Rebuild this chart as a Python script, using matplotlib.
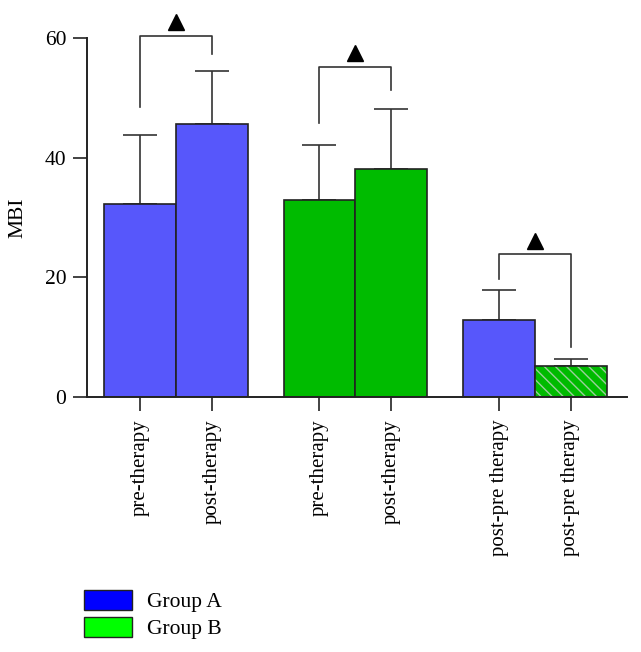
import numpy as np
import matplotlib.pyplot as plt
from matplotlib.patches import Patch

plt.rcParams['font.family'] = ['Liberation Serif', 'DejaVu Serif']

# Data
labels = ['pre-therapy', 'post-therapy', 'pre-therapy', 'post-therapy',
          'post-pre therapy', 'post-pre therapy']
means = [32.3, 45.6, 32.9, 38.1, 12.9, 5.1]
errs = [11.5, 8.9, 9.2, 10.1, 5.0, 1.3]
groups = ['A', 'A', 'B', 'B', 'A', 'B']
xpos = [0, 1, 2.5, 3.5, 5, 6]

# brackets: (left bar, right bar, left leg bottom, right leg bottom, top, marker y)
brackets = [(0, 1, 48.5, 57.3, 60.4, 62.6),
            (2, 3, 45.8, 51.3, 55.2, 57.5),
            (4, 5, 19.8, 8.4, 23.9, 26.1)]

bar_colors = {'A': '#5757fb', 'B': '#00bb00'}
edge = '#222222'

fig = plt.figure(figsize=(6.41, 6.52), dpi=100)
ax = fig.add_axes([87 / 641, 1 - 397 / 652, 540 / 641, 359 / 652])

for i, (x, m, e, g) in enumerate(zip(xpos, means, errs, groups)):
    hatched = (i == 5)
    if hatched:
        ax.bar(x, m, width=1.0, color=bar_colors[g], edgecolor='#9ccf9c',
               hatch='\\\\\\', linewidth=0, zorder=2)
        ax.bar(x, m, width=1.0, fill=False, edgecolor=edge, linewidth=1.2, zorder=3)
    else:
        ax.bar(x, m, width=1.0, color=bar_colors[g], edgecolor=edge,
               linewidth=1.2, zorder=2)
    ax.errorbar(x, m, yerr=[[0], [e]], fmt='none', ecolor='#333333',
                elinewidth=1.2, capsize=12, capthick=1.2, zorder=1)

for a, b, yl, yr, top, my in brackets:
    xl, xr = xpos[a], xpos[b]
    ax.plot([xl, xl, xr, xr], [yl, top, top, yr], color='#333333',
            linewidth=1.2, clip_on=False)
    ax.plot((xl + xr) / 2, my, marker='^', color='black', markersize=11,
            clip_on=False)

ax.set_xlim(-0.736, 6.78)
ax.set_ylim(0, 60)
ax.set_yticks([0, 20, 40, 60])
ax.set_xticks(xpos)
ax.set_xticklabels(labels, rotation=90)
ax.set_ylabel('MBI', fontsize=15.5, labelpad=12)
ax.tick_params(axis='both', labelsize=15, length=10, width=1.2, color='#222222')
ax.tick_params(axis='y', labelsize=15.5, pad=5)
ax.tick_params(axis='x', pad=6)
ax.spines['top'].set_visible(False)
ax.spines['right'].set_visible(False)
for s in ['left', 'bottom']:
    ax.spines[s].set_linewidth(1.4)
    ax.spines[s].set_color('#222222')

handles = [Patch(facecolor='#0000ff', edgecolor=edge, label='Group A'),
           Patch(facecolor='#00ff00', edgecolor=edge, label='Group B')]
fig.legend(handles=handles, loc='lower left', bbox_to_anchor=(84 / 641, 13 / 652),
           frameon=False, fontsize=15.5, handlelength=2.23, handleheight=1.07,
           handletextpad=0.7, labelspacing=0.2, borderaxespad=0, borderpad=0)

fig.savefig('out.png', dpi=100)
